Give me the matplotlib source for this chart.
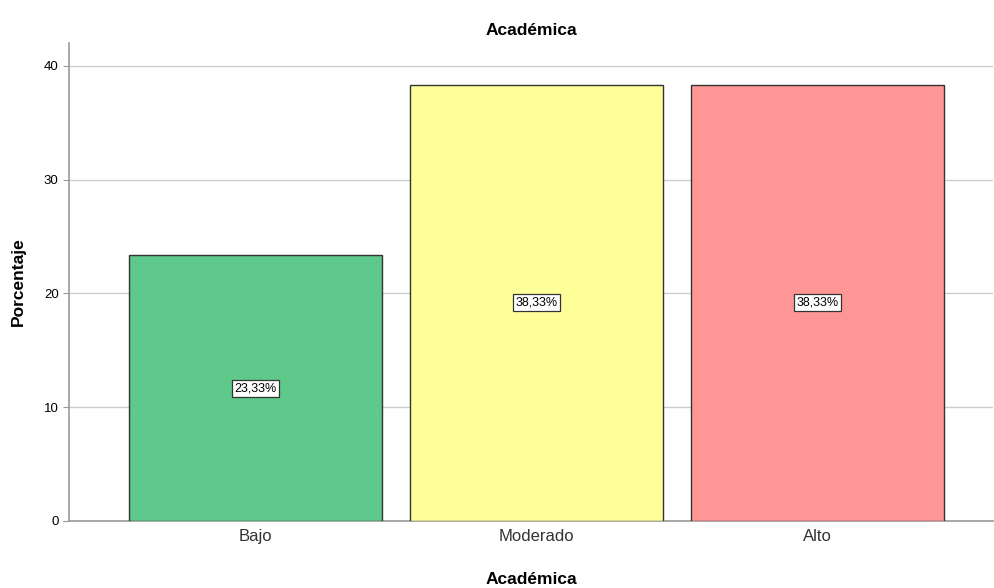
import matplotlib
matplotlib.use("Agg")
import matplotlib.pyplot as plt

plt.rcParams['font.family'] = ['Liberation Sans', 'DejaVu Sans']

categories = ["Bajo", "Moderado", "Alto"]
values = [23.33, 38.33, 38.33]
labels = ["23,33%", "38,33%", "38,33%"]
colors = ["#5ec98a", "#ffff99", "#ff9696"]

fig = plt.figure(figsize=(9.94, 5.88), dpi=100)
ax = fig.add_axes([0.0694, 0.114, 0.93, 0.813])
x = range(len(categories))
bars = ax.bar(x, values, width=0.9, color=colors, edgecolor="#333333", linewidth=1.0, zorder=3)
for xi, v, lab in zip(x, values, labels):
    ax.text(xi, v / 2, lab, ha="center", va="center", fontsize=9, zorder=4,
            bbox=dict(boxstyle="square,pad=0.2", facecolor="white", edgecolor="#333333", linewidth=0.9))

ax.set_xlim(-0.665, 2.625)
ax.set_ylim(0, 42)
ax.set_yticks([0, 10, 20, 30, 40])
ax.set_xticks(list(x))
ax.set_xticklabels(categories, fontsize=12, color="#333333")
ax.tick_params(axis="y", labelsize=9.5, length=4, color="#999999")
ax.tick_params(axis="x", length=0, pad=6)
ax.grid(axis="y", color="#cccccc", linewidth=1.0, zorder=0)
for s in ["top", "right"]:
    ax.spines[s].set_visible(False)
for s in ["left", "bottom"]:
    ax.spines[s].set_color("#999999")
    ax.spines[s].set_linewidth(1.2)
ax.set_ylabel("Porcentaje", fontsize=12.5, fontweight="bold", labelpad=13)
ax.set_xlabel("Académica", fontsize=12.5, fontweight="bold", labelpad=20)
ax.set_title("Académica", fontsize=12.5, fontweight="bold", pad=6)
fig.savefig("out.png", dpi=100)
